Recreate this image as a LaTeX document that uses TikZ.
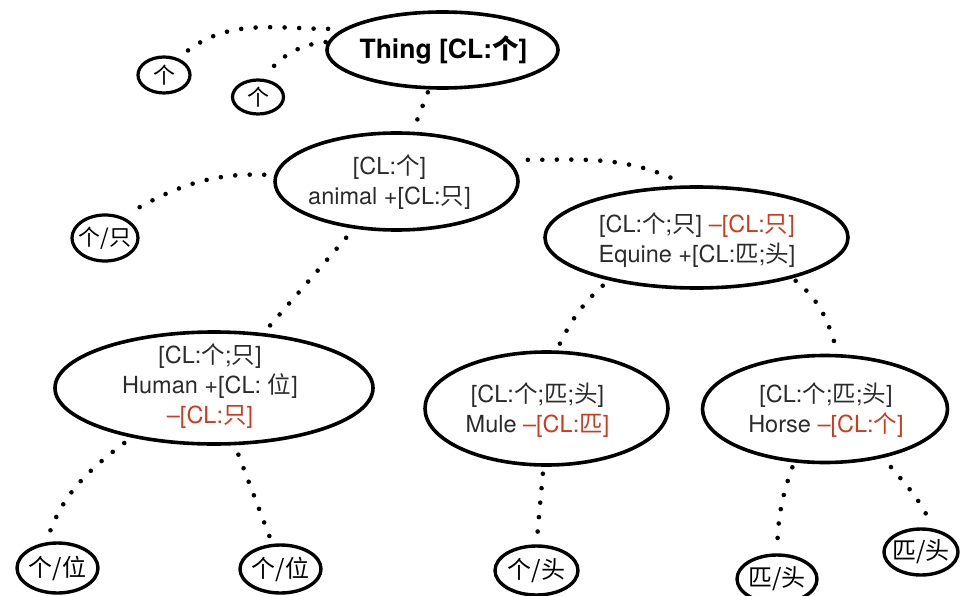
\documentclass[tikz,border=0pt]{standalone}
\usepackage{fontspec}
\setmainfont{TeX Gyre Heros}
\newfontfamily\cjk{Noto Sans CJK SC}
\usetikzlibrary{shapes.geometric}
\newcommand\zh[1]{{\cjk #1}}
\newcommand\lf[1]{\makebox[0pt]{\cjk #1}}
\definecolor{ink}{HTML}{2B2B2B}
\definecolor{minus}{HTML}{D03A1F}
\tikzset{
  oval/.style={ellipse, draw=black, line width=3.6pt, inner sep=0pt},
  leaf/.style={oval, line width=3.4pt, font=\fontsize{24}{26}\selectfont},
  small/.style={oval, line width=3.2pt, font=\fontsize{22}{24}\selectfont},
  label/.style={align=center, inner sep=0pt, text=ink,
                font=\fontsize{23.5}{30}\selectfont},
  dotlink/.style={line width=4.6pt, line cap=round,
                  dash pattern=on 0pt off 14.5pt},
}
\begin{document}
\begin{tikzpicture}[x=1pt,y=-1pt]
\useasboundingbox (0,0) rectangle (965,596);

% concept nodes
\node[oval, minimum width=231pt, minimum height=76pt] (thing) at (442.5,50) {};
\node[font=\fontsize{26.5}{30}\selectfont\bfseries, inner sep=0pt] (thing-t) at (443.5,50)
  {Thing [CL:\zh{个}]};

\node[oval, minimum width=243pt, minimum height=97pt] (animal) at (396.5,181.5) {};
\node[label] (animal-t) at (389.5,182) {[CL:\zh{个}]\\animal +[CL:\zh{只}]};

\node[oval, minimum width=303pt, minimum height=101pt] (equine) at (696.5,237.5) {};
\node[label] (equine-t) at (697,240)
  {[CL:\zh{个};\zh{只}] \textcolor{minus}{--[CL:\zh{只}]}\\Equine +[CL:\zh{匹};\zh{头}]};

\node[oval, minimum width=318pt, minimum height=112pt] (human) at (214,388) {};
\node[label] (human-t) at (210,386)
  {[CL:\zh{个};\zh{只}]\\Human +[CL: \zh{位}]\\\textcolor{minus}{--[CL:\zh{只}]}};

\node[oval, minimum width=243pt, minimum height=113pt] (mule) at (546.5,408.5) {};
\node[label] (mule-t) at (537.5,410)
  {[CL:\zh{个};\zh{匹};\zh{头}]\\Mule \textcolor{minus}{--[CL:\zh{匹}]}};

\node[oval, minimum width=245pt, minimum height=107pt] (horse) at (825,409) {};
\node[label] (horse-t) at (826,410)
  {[CL:\zh{个};\zh{匹};\zh{头}]\\Horse \textcolor{minus}{--[CL:\zh{个}]}};

% classifier leaves
\node[small, minimum width=52pt, minimum height=36pt] (lf1) at (164,75) {\lf{个}};
\node[small, minimum width=51pt, minimum height=34pt] (lf2) at (258,97) {\lf{个}};
\node[small, minimum width=66pt, minimum height=46pt] (lf3) at (105,238) {\lf{个/只}};
\node[leaf, minimum width=81pt, minimum height=50pt] (leaf4) at (57.5,568) {\lf{个/位}};
\node[leaf, minimum width=81pt, minimum height=48pt] (leaf5) at (280.5,569) {\lf{个/位}};
\node[leaf, minimum width=83pt, minimum height=49pt] (leaf6) at (536.5,570.5) {\lf{个/头}};
\node[leaf, minimum width=80pt, minimum height=48pt] (leaf7) at (777,579) {\lf{匹/头}};
\node[leaf, minimum width=74pt, minimum height=46pt] (leaf8) at (921,552) {\lf{匹/头}};

% dotted links
\draw[dotlink, shorten <=15pt, shorten >=11pt] (thing.168) to[out=180, in=38] (lf1.50);
\draw[dotlink, shorten <=2pt, shorten >=9pt] (thing.176) to[out=185, in=50] (lf2.75);
\draw[dotlink, shorten <=3pt, shorten >=8pt] (thing.251) -- (animal.72);
\draw[dotlink, shorten <=10pt, shorten >=12pt] (animal.177) to[out=178, in=30] (lf3.50);
\draw[dotlink, shorten <=20pt, shorten >=12pt] (animal.11) to[out=0, in=155] (equine.100);
\draw[dotlink, shorten <=12pt, shorten >=6pt] (animal.228) -- (human.48);
\draw[dotlink, shorten <=8pt, shorten >=5pt] (equine.206) to[out=222, in=65] (mule.80);
\draw[dotlink, shorten <=4pt, shorten >=8pt] (equine.337) to[out=321, in=106] (horse.77);
\draw[dotlink, shorten <=9pt, shorten >=10pt] (human.211) to[out=217, in=70] (leaf4.114);
\draw[dotlink, shorten <=10pt, shorten >=8pt] (human.290) -- (leaf5.108);
\draw[dotlink, shorten <=7pt, shorten >=12pt] (mule.267) -- (leaf6.north);
\draw[dotlink, shorten <=5pt, shorten >=9pt] (horse.240) to[out=250, in=88] (leaf7.north);
\draw[dotlink, shorten <=12pt, shorten >=10pt] (horse.320) to[out=310, in=115] (leaf8.63);
\end{tikzpicture}
\end{document}
